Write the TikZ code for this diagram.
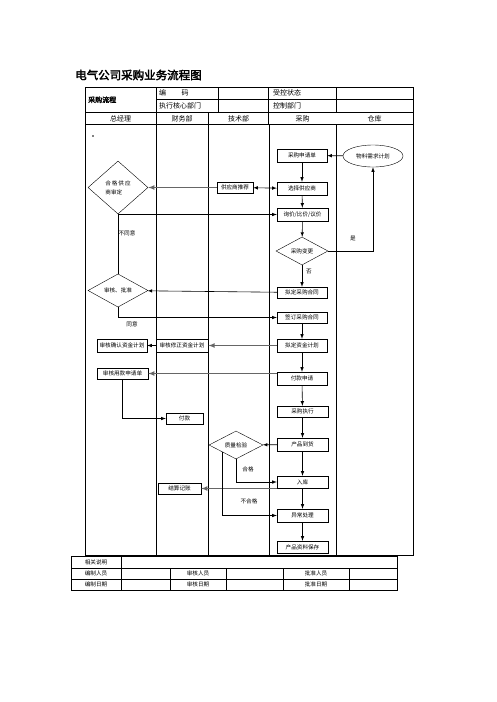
\documentclass[tikz,border=0pt]{standalone}
\usepackage{fontspec}
\setmainfont{Noto Sans CJK SC}[AutoFakeBold=2.5]
\usetikzlibrary{shapes}

\begin{document}
\begin{tikzpicture}[x = 1pt, y = -1pt,
  box/.style = {draw, rectangle, inner sep = 0, minimum width = 50pt, minimum height = 12pt, font = \fontsize{5.6}{6}\selectfont},
  dia/.style = {draw, diamond, inner sep = 0, font = \fontsize{5.6}{6}\selectfont},
  lbl/.style = {inner sep = 0, font = \fontsize{5.6}{6}\selectfont},
  hd/.style = {inner sep = 0, font = \fontsize{7}{8}\selectfont},
  flow/.style = {line width = .6pt, -latex},
  gflow/.style = {line width = 1.1pt, draw = black!60, -latex}]
 \useasboundingbox (0, 0) rectangle (496, 702);
  \node [inner sep = 0, anchor = west, font = \fontsize{11.5}{12}\bfseries] (title) at (75, 75) {电气公司采购业务流程图};
  % head table and lanes
  \draw [line width = .9pt] (85, 87) rectangle (413, 555);
  \draw [line width = .6pt] (156, 99.5) -- (413, 99.5) (85, 112.5) -- (413, 112.5) (85, 124) -- (413, 124);
  \draw [line width = .6pt] (218, 87) -- (218, 112.5) (336, 87) -- (336, 112.5);
  \foreach \x in {156, 208, 269, 336} \draw [line width = .6pt] (\x, 124) -- (\x, 555);
  \draw [line width = .6pt] (156, 87) -- (156, 124) (268, 87) -- (268, 124) (208, 112.5) -- (208, 124);
  \node [hd, anchor = west, font = \fontsize{7}{8}\bfseries] (hflow) at (88, 99.75) {采购流程};
  \node [hd, anchor = west] (hcode) at (159, 93.25) {编\hspace{2.2em}码};
  \node [hd, anchor = west] (hdept) at (159, 106) {执行核心部门};
  \node [hd, anchor = west] (hstate) at (273, 93.25) {受控状态};
  \node [hd, anchor = west] (hctrl) at (273, 106) {控制部门};
  \node [hd] (gm) at (120.5, 118.5) {总经理};
  \node [hd] (cw) at (182, 118.5) {财务部};
  \node [hd] (js) at (238.5, 118.5) {技术部};
  \node [hd] (cg) at (302.5, 118.5) {采购};
  \node [hd] (ck) at (374.5, 118.5) {仓库};
  \fill (93, 136) circle [radius = .8];
  % flow nodes
  \node [box, minimum height = 13pt] (sqd) at (302, 155.5) {采购申请单};
  \node [draw, ellipse, inner sep = 0, minimum width = 60pt, minimum height = 22pt, font = \fontsize{5.6}{6}\selectfont] (wlxq) at (373, 156) {物料需求计划};
  \node [dia, minimum width = 60pt, minimum height = 53pt, align = left] (hgsd) at (118, 187.5) {合\,格\,供\,应\\[3pt]商审定};
  \node [box, minimum width = 36pt, minimum height = 11pt] (gystj) at (235, 187.5) {供应商推荐};
  \node [box, minimum height = 13pt] (xzgys) at (302, 188.5) {选择供应商};
  \node [box, minimum width = 51pt, minimum height = 13pt] (xj) at (302.5, 214.5) {询价/比价/议价};
  \node [dia, minimum width = 52pt, minimum height = 28pt] (cgbg) at (302, 251) {采购变更};
  \node [box, minimum height = 11pt] (nzht) at (302, 292.5) {拟定采购合同};
  \node [dia, minimum width = 60pt, minimum height = 27pt] (shpz) at (118, 290.5) {审核、批准};
  \node [box, minimum height = 11pt] (qdht) at (302, 317.5) {签订采购合同};
  \node [box, minimum height = 13pt] (nzzj) at (302, 345.5) {拟定资金计划};
  \node [box, line width = .9pt, minimum width = 52pt, minimum height = 13pt] (xzzj) at (182, 345.5) {审核修正资金计划};
  \node [box, minimum height = 13pt] (qrzj) at (122, 345.5) {审核确认资金计划};
  \node [box, minimum height = 13pt] (fksq) at (302, 378.5) {付款申请};
  \node [box, minimum width = 51pt, minimum height = 11pt] (shyk) at (122.5, 373.5) {审核用款申请单};
  \node [box, minimum width = 37pt, minimum height = 11pt] (fk) at (184.5, 418.5) {付款};
  \node [box, minimum width = 51pt, minimum height = 11pt] (cgzx) at (302.5, 411.5) {采购执行};
  \node [box, minimum width = 51pt, minimum height = 13pt] (cpdh) at (302.5, 444.5) {产品到货};
  \node [dia, minimum width = 54pt, minimum height = 28pt] (zljy) at (236, 445) {质量检验};
  \node [box, minimum width = 51pt] (rk) at (302.5, 482) {入库};
  \node [box, minimum width = 43pt, minimum height = 11pt] (jsjz) at (179.5, 488.5) {结算记账};
  \node [box, minimum width = 51pt, minimum height = 13pt] (yccl) at (302.5, 515.5) {异常处理};
  \node [box, minimum width = 51pt] (cpbc) at (302.5, 547) {产品资料保存};
  % connectors
  \draw [flow] (wlxq) -- (sqd);
  \draw [flow] (sqd) -- (xzgys);
  \draw [gflow] (gystj) -- (hgsd);
  \draw [line width = .6pt, latex-latex] (gystj) -- (xzgys);
  \draw [flow] (xzgys) -- (xj);
  \draw [flow] (shpz.north) -- (shpz.north |- xj) -- (xj);
  \node [lbl] (bty) at (127, 233) {不同意};
  \draw [flow] (xj) -- (cgbg);
  \draw [flow] (cgbg.east) -- (wlxq.south |- cgbg.east) -- (wlxq.south);
  \node [lbl] (shi) at (353, 238) {是};
  \draw [flow] (cgbg) -- (nzht);
  \node [lbl] (fou) at (309, 272) {否};
  \draw [flow] (nzht) -- (shpz);
  \draw [flow] (shpz.south) -- (shpz.south |- qdht) -- (qdht);
  \node [lbl] (ty) at (132, 324) {同意};
  \draw [flow] (qdht) -- (nzzj);
  \draw [gflow] (nzzj) -- (xzzj);
  \draw [flow] (xzzj) -- (qrzj);
  \draw [flow] (nzzj) -- (fksq);
  \draw [gflow] (fksq.west |- shyk) -- (shyk);
  \draw [flow] (shyk.south) -- (shyk.south |- fk) -- (fk);
  \draw [flow] (fksq) -- (cgzx);
  \draw [flow] (cgzx) -- (cpdh);
  \draw [flow] (cpdh) -- (zljy);
  \draw [flow] (zljy.south) -- (zljy.south |- rk) -- (rk);
  \node [lbl] (hg) at (248, 469) {合格};
  \draw [flow] (cpdh) -- (rk);
  \draw [gflow] (rk.west |- jsjz) -- (jsjz);
  \draw [flow] (rk) -- (yccl);
  \draw [flow] (zljy.south west) -- (zljy.south west |- yccl) -- (yccl);
  \node [lbl] (bhg) at (249, 501) {不合格};
  \draw [flow] (yccl) -- (cpbc);
  % foot table
  \draw [line width = .6pt] (71, 556) rectangle (397, 590);
  \draw [line width = .6pt] (71, 568) -- (397, 568) (71, 579) -- (397, 579) (121, 556) -- (121, 590);
  \foreach \x in {170, 226, 283, 349} \draw [line width = .6pt] (\x, 568) -- (\x, 590);
  \node [lbl] (xgsm) at (96, 562) {相关说明};
  \node [lbl] (bzry) at (96, 573.5) {编制人员};
  \node [lbl] (bzrq) at (96, 584.5) {编制日期};
  \node [lbl] (shry) at (198, 573.5) {审核人员};
  \node [lbl] (shrq) at (198, 584.5) {审核日期};
  \node [lbl] (pzry) at (316, 573.5) {批准人员};
  \node [lbl] (pzrq) at (316, 584.5) {批准日期};
 \end{tikzpicture}
\end{document}
